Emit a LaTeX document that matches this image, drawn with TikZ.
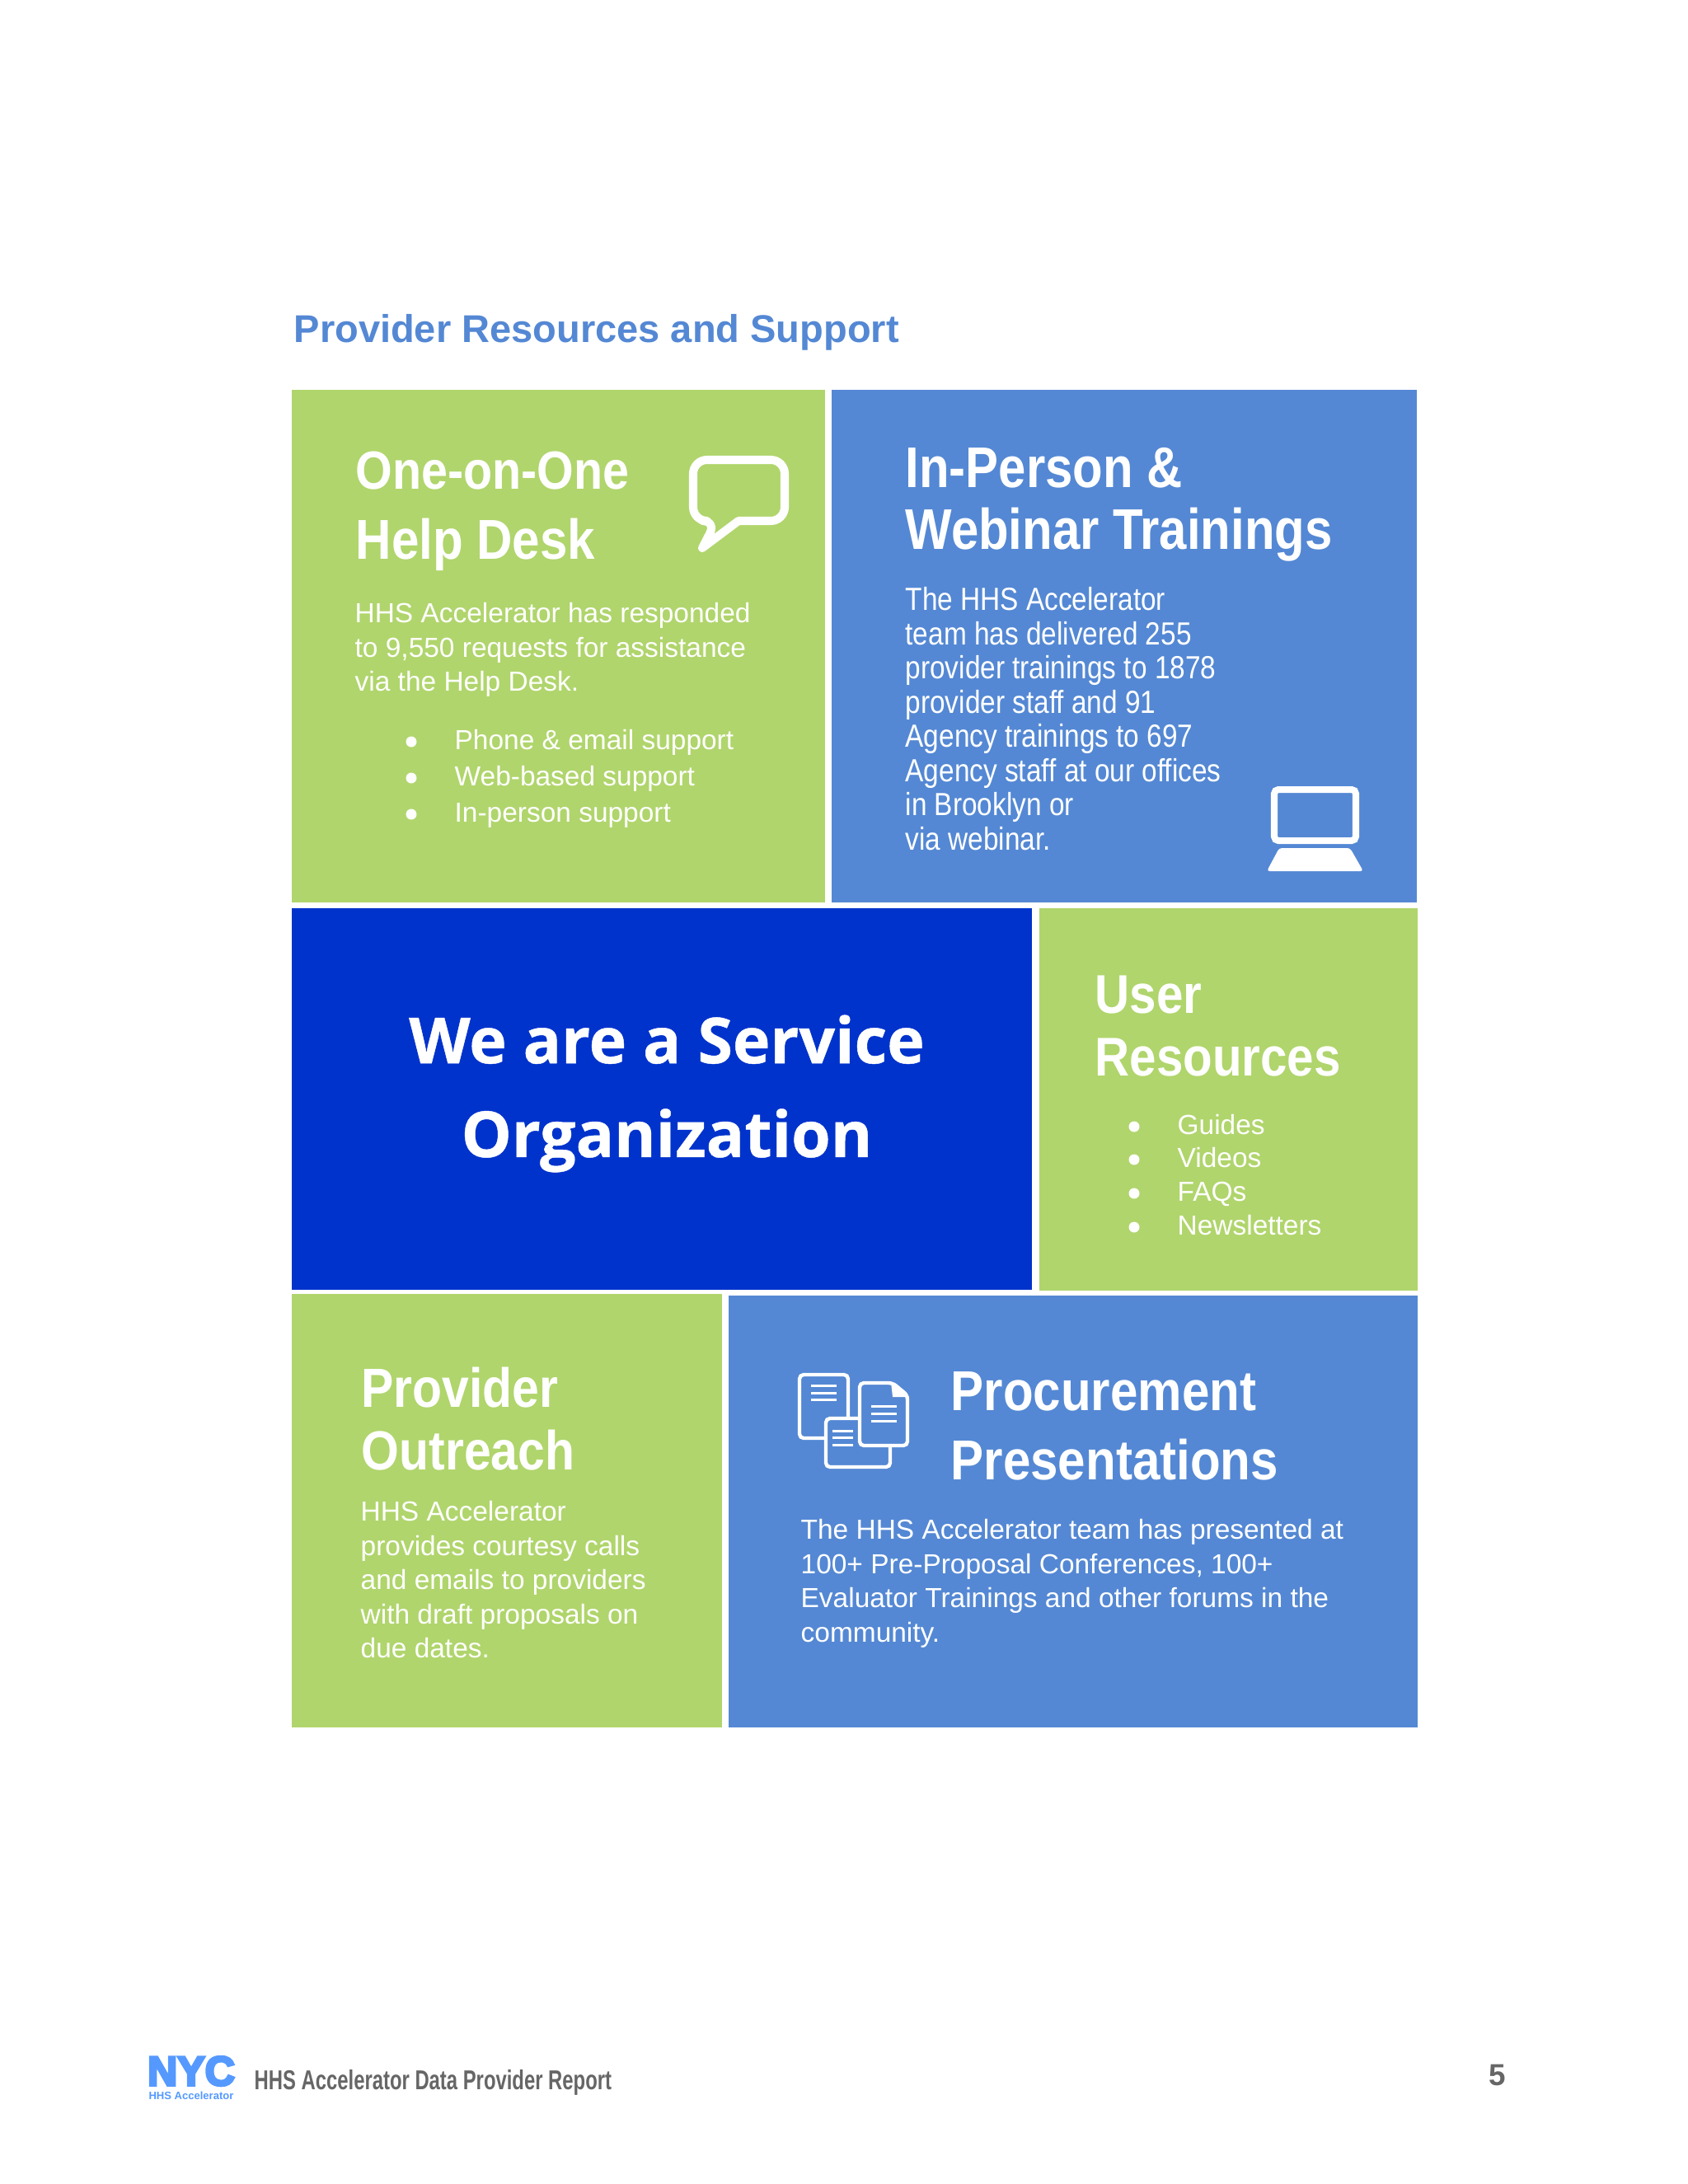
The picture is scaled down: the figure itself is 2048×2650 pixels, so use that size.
\documentclass[tikz,border=0pt]{standalone}
\usepackage{fontspec}
\setmainfont{Liberation Sans}
\newfontfamily\headfont[FakeStretch=0.88]{Liberation Sans}
\newfontfamily\narrowfont[FakeStretch=0.86]{Liberation Sans}
\newfontfamily\footfont[FakeStretch=0.72]{Liberation Sans}
\newfontfamily\bannerfont[FakeBold=0.6]{Open Sans}
\newfontfamily\logofont[FakeBold=6]{Liberation Sans}
\definecolor{leaf}{HTML}{B0D56C}
\definecolor{sky}{HTML}{5488D4}
\definecolor{navy}{HTML}{0033CC}
\definecolor{logoblue}{HTML}{5599FF}
\definecolor{footgray}{HTML}{666666}
\tikzset{
    heading/.style={white, anchor=base west, inner sep=0pt, font=\headfont\fontsize{20}{25}\selectfont\bfseries},
    narrowhead/.style={white, anchor=base west, inner sep=0pt, font=\narrowfont\fontsize{20.8}{25}\selectfont\bfseries},
    bodytext/.style={white, anchor=north west, inner sep=0pt, align=left, font=\fontsize{10}{12.4}\selectfont},
    narrowbody/.style={white, anchor=north west, inner sep=0pt, align=left, font=\narrowfont\fontsize{11.6}{12.4}\selectfont},
    listtext/.style={white, anchor=base west, inner sep=0pt, font=\fontsize{10}{12.4}\selectfont},
    icon/.style={white, line width=3pt, line join=round},
    docpage/.style={white, fill=sky, line width=1.3pt, rounded corners=1.5pt},
    docrule/.style={white, line width=0.9pt},
}

\begin{document}
\begin{tikzpicture}[x=0.29883pt, y=-0.29883pt]
    \useasboundingbox (0, 0) rectangle (2048, 2650);

    % Coloured panels
    \fill[leaf] (354, 473) rectangle (1001, 1095);
    \fill[sky] (1009, 473) rectangle (1719, 1095);
    \fill[navy] (354, 1102) rectangle (1252, 1565);
    \fill[leaf] (1261, 1102) rectangle (1720, 1566);
    \fill[leaf] (354, 1570) rectangle (876, 2096);
    \fill[sky] (884, 1572) rectangle (1720, 2096);

    \node[anchor=base west, inner sep=0pt, text=sky, font=\fontsize{14.05}{18}\selectfont\bfseries]
        (pagetitle) at (356, 415) {Provider Resources and Support};

    % Help desk panel
    \node[heading, font=\headfont\fontsize{19.5}{25}\selectfont\bfseries] (helpone) at (431, 593) {One-on-One};
    \node[heading, font=\headfont\fontsize{20.4}{25}\selectfont\bfseries] (helptwo) at (431, 678) {Help Desk};
    \node[bodytext] (helpbody) at (430, 731) {HHS Accelerator has responded\\to 9,550 requests for assistance\\via the Help Desk.};
    \foreach \ypos/\txt [count=\n] in {909/Phone \& email support, 953/Web-based support, 997/In-person support} {
        \node[listtext] (helpitem\n) at (551, \ypos) {\txt};
        \fill[white] (499, \ypos-9) circle (6.5);
    }
    \draw[icon] [rounded corners=5pt] (896, 632) -- (952, 632) -- (952, 558) -- (841, 558) -- (841, 632) -- (869, 632)
        [sharp corners] -- (852, 665) -- cycle;

    % Training panel
    \node[narrowhead] (trainone) at (1098, 591) {In-Person \&};
    \node[narrowhead] (traintwo) at (1098, 666) {Webinar Trainings};
    \node[narrowbody] (trainbody) at (1098, 712) {The HHS Accelerator\\team has delivered 255\\provider trainings to 1878\\provider staff and 91\\Agency trainings to 697\\Agency staff at our offices\\in Brooklyn or\\via webinar.};
    \draw[white, line width=2.4pt, rounded corners=1.5pt] (1546, 958) rectangle (1645, 1020);
    \fill[white, rounded corners=1pt] (1552, 1029) -- (1638, 1029) -- (1654, 1057) -- (1537, 1057) -- cycle;

    % Banner panel
    \node[white, align=center, inner sep=0pt, font=\bannerfont\fontsize{23}{34}\selectfont\bfseries]
        (banner) at (809, 1327) {We are a Service\\Organization};

    % User resources panel
    \node[heading, font=\headfont\fontsize{19.8}{25}\selectfont\bfseries] (userone) at (1328, 1229) {User};
    \node[heading, font=\headfont\fontsize{19.8}{25}\selectfont\bfseries] (usertwo) at (1328, 1305) {Resources};
    \foreach \ypos/\txt [count=\n] in {1376/Guides, 1416/Videos, 1457/FAQs, 1498/Newsletters} {
        \node[listtext] (useritem\n) at (1428, \ypos) {\txt};
        \fill[white] (1376, \ypos-9) circle (6.5);
    }

    % Outreach panel
    \node[heading] (reachone) at (438, 1707) {Provider};
    \node[heading] (reachtwo) at (438, 1783) {Outreach};
    \node[bodytext] (reachbody) at (437, 1821) {HHS Accelerator\\provides courtesy calls\\and emails to providers\\with draft proposals on\\due dates.};

    % Procurement panel
    \node[heading, font=\headfont\fontsize{20.4}{25}\selectfont\bfseries] (procone) at (1153, 1711) {Procurement};
    \node[heading, font=\headfont\fontsize{20.4}{25}\selectfont\bfseries] (proctwo) at (1153, 1795) {Presentations};
    \node[bodytext] (procbody) at (971, 1843) {The HHS Accelerator team has presented at\\100+ Pre-Proposal Conferences, 100+\\Evaluator Trainings and other forums in the\\community.};
    \draw[docpage] (970, 1668) rectangle (1029, 1745);
    \draw[docpage] (1002, 1721) rectangle (1080, 1780);
    \draw[docpage] [rounded corners=1.5pt] (1043, 1678) -- (1083, 1678) -- (1101, 1693) -- (1101, 1754) -- (1043, 1754) -- cycle;
    \fill[white] (1081, 1677) -- (1103, 1695) -- (1083, 1695) -- cycle;
    \foreach \ypos in {1681, 1690, 1698}
        \draw[docrule] (984, \ypos) -- (1015, \ypos);
    \foreach \ypos in {1736, 1744, 1753}
        \draw[docrule] (1010, \ypos) -- (1035, \ypos);
    \foreach \ypos in {1706, 1715, 1724}
        \draw[docrule] (1057, \ypos) -- (1088, \ypos);

    % Footer
    \node[text=logoblue, inner sep=0pt, font=\logofont\fontsize{15}{15}\selectfont\bfseries] (logo) at (232, 2513) {NYC};
    \node[text=logoblue, inner sep=0pt, font=\fontsize{3.9}{4}\selectfont\bfseries] (logotag) at (232, 2543) {HHS Accelerator};
    \node[anchor=base west, inner sep=0pt, text=footgray, font=\footfont\fontsize{9.9}{11}\selectfont\bfseries]
        (footer) at (308, 2535) {HHS Accelerator Data Provider Report};
    \node[text=footgray, inner sep=0pt, font=\fontsize{11}{13}\selectfont\bfseries] (pagenum) at (1817, 2518) {5};
\end{tikzpicture}
\end{document}
